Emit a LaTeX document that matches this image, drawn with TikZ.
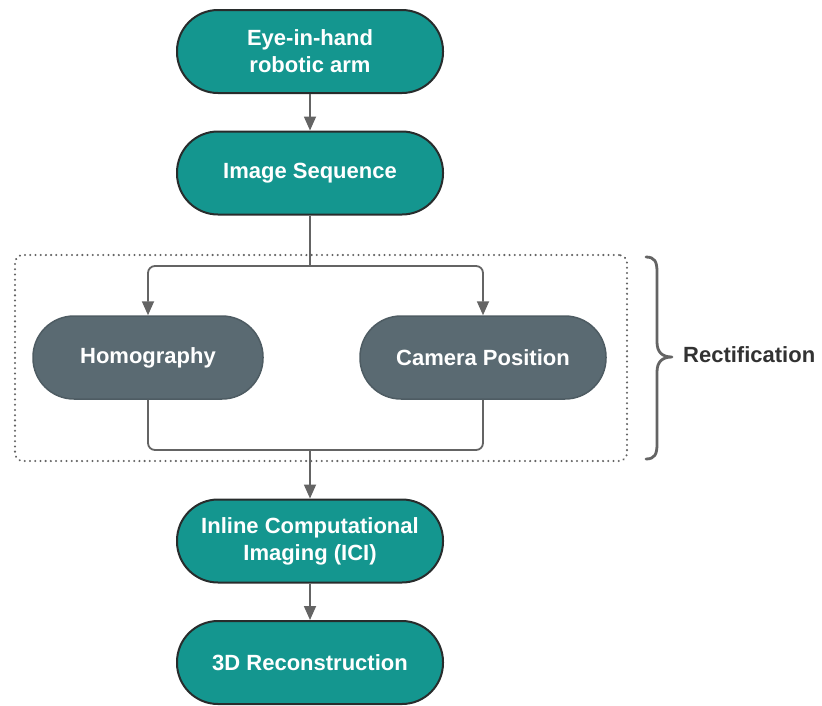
\documentclass[tikz,border=0pt]{standalone}
\usepackage{fontspec}
\setmainfont{Liberation Sans}
\usetikzlibrary{arrows.meta}
\definecolor{tealfill}{RGB}{20,150,143}
\definecolor{greyfill}{RGB}{90,106,114}
\definecolor{greyedge}{RGB}{78,92,99}
\definecolor{darkedge}{RGB}{40,44,44}
\definecolor{linegrey}{RGB}{100,100,100}
\definecolor{textdark}{RGB}{50,50,50}
\tikzset{
  pill/.style={rectangle, rounded corners=41pt, minimum width=266pt, minimum height=83pt,
    fill=tealfill, draw=darkedge, line width=2pt, text=white, align=center,
    font=\fontsize{22}{27}\selectfont\bfseries, inner sep=0pt},
  greypill/.style={pill, fill=greyfill, draw=greyedge, line width=1.5pt, minimum width=230pt},
  conn/.style={draw=linegrey, line width=1.8pt, rounded corners=7pt},
  arr/.style={conn, -{Triangle[length=14pt,width=12pt]}},
  dotbox/.style={draw=linegrey, line width=2.3pt, dash pattern=on 0.01pt off 5.2pt, line cap=round, rounded corners=8pt},
  bracestyle/.style={draw=linegrey, line width=2.8pt, line cap=round, line join=round},
}
\begin{document}
\begin{tikzpicture}[x=1pt,y=-1pt]
\useasboundingbox (0,0) rectangle (822,705);
\node[pill] (arm) at (310,51.5) {Eye-in-hand\\robotic arm};
\node[pill] (seq) at (310,173) {Image Sequence};
\node[greypill] (hom) at (148,357.5) {Homography};
\node[greypill, minimum width=246pt] (cam) at (483,357.5) {Camera Position};
\node[pill] (ici) at (310,541) {Inline Computational\\Imaging (ICI)};
\node[pill] (rec) at (310,662.5) {3D Reconstruction};
\node[dotbox, minimum width=612pt, minimum height=206pt, inner sep=0pt] (box) at (321,358) {};
\coordinate (split) at (310,266);
\coordinate (merge) at (310,450);
\draw[arr] (arm) -- (seq);
\draw[conn] (seq) -- (split);
\draw[arr] (split) -| (hom.north);
\draw[arr] (split) -| (cam.north);
\draw[conn] (hom.south) |- (merge);
\draw[conn] (cam.south) |- (merge);
\draw[arr] (merge) -- (ici);
\draw[arr] (ici) -- (rec);
\coordinate (bt) at (646,257);
\coordinate (btip) at (672,357);
\coordinate (bb) at (646,459);
\draw[bracestyle] (bt) .. controls (655,257) and (657,262) .. (657,272) -- (657,342)
  .. controls (657,352) and (662,357) .. (btip)
  .. controls (662,357) and (657,362) .. (657,372) -- (657,444)
  .. controls (657,454) and (655,459) .. (bb);
\node[anchor=west, text=textdark, font=\fontsize{22}{27}\selectfont\bfseries, inner sep=0pt] (lab) at (683,355) {Rectification};
\end{tikzpicture}
\end{document}
